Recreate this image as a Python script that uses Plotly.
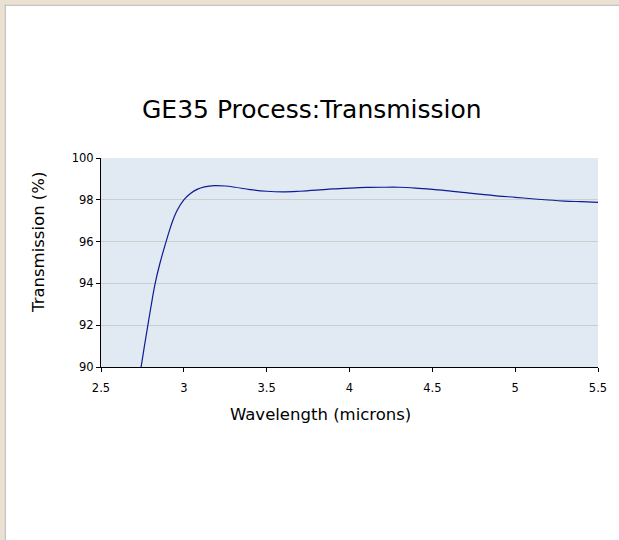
import plotly.graph_objects as go

# Data
wavelength = [2.742, 2.762, 2.783, 2.804, 2.827, 2.857, 2.893, 2.912, 2.933, 2.960, 3.0,
              3.04, 3.08, 3.125, 3.185, 3.25, 3.31, 3.4, 3.5, 3.6, 3.7, 3.8, 3.9, 4.0,
              4.1, 4.2, 4.3, 4.4, 4.5, 4.6, 4.7, 4.8, 4.9, 5.0, 5.1, 5.2, 5.3, 5.4, 5.5]
transmission = [90.0, 91.0, 92.0, 93.0, 94.0, 95.0, 96.0, 96.5, 97.0, 97.5, 98.0,
                98.3, 98.5, 98.62, 98.68, 98.66, 98.6, 98.49, 98.41, 98.38, 98.41,
                98.46, 98.52, 98.56, 98.59, 98.60, 98.60, 98.56, 98.50, 98.43, 98.34,
                98.26, 98.18, 98.12, 98.05, 97.99, 97.94, 97.91, 97.88]
x_ticks = [2.5, 3, 3.5, 4, 4.5, 5, 5.5]
x_tick_labels = ["2.5", "3", "3.5", "4", "4.5", "5", "5.5"]
y_ticks = [90, 92, 94, 96, 98, 100]

title_text = "GE35 Process:Transmission"
x_title = "Wavelength (microns)"
y_title = "Transmission (%)"

W, H = 619, 540
ML, MR, MT, MB = 101, 21, 158, 173
PW, PH = W - ML - MR, H - MT - MB


def px(x):
    return (x - ML) / PW


def py(y):
    return (H - MB - y) / PH


fig = go.Figure()
fig.add_trace(go.Scatter(
    x=wavelength, y=transmission, mode="lines",
    line=dict(color="#0c1c92", width=1.2, shape="spline", smoothing=1.0),
    hoverinfo="skip", showlegend=False, cliponaxis=True,
))

text_font = "DejaVu Sans, Verdana, sans-serif"
tick_font = dict(family=text_font, size=11.5, color="#000000")
fig.update_xaxes(
    range=[2.5, 5.5], tickvals=x_ticks, ticktext=x_tick_labels,
    showline=True, linecolor="#000000", linewidth=1, mirror=False,
    ticks="outside", ticklen=4, tickcolor="#000000", showgrid=False, zeroline=False,
    tickfont=tick_font, fixedrange=True, ticklabelstandoff=6,
)
fig.update_yaxes(
    range=[90, 100], tickvals=y_ticks,
    showline=True, linecolor="#000000", linewidth=1,
    ticks="outside", ticklen=4, tickcolor="#000000",
    showgrid=True, gridcolor="#cdcdcd", gridwidth=1, zeroline=False,
    tickfont=tick_font, fixedrange=True,
)

annotations = [
    dict(text=title_text, x=px(311.5), y=py(110), xref="paper", yref="paper",
         showarrow=False, xanchor="center", yanchor="middle",
         font=dict(family=text_font, size=25, color="#000000")),
    dict(text=x_title, x=px(320.5), y=py(414), xref="paper", yref="paper",
         showarrow=False, xanchor="center", yanchor="middle",
         font=dict(family=text_font, size=16.5, color="#000000")),
    dict(text=y_title, x=px(38), y=py(243), xref="paper", yref="paper",
         showarrow=False, xanchor="center", yanchor="middle", textangle=-90,
         font=dict(family=text_font, size=16.5, color="#000000")),
]

shapes = [
    dict(type="rect", xref="paper", yref="paper", x0=px(0), x1=px(W), y0=py(0), y1=py(4.5),
         fillcolor="#ebe1d1", line=dict(width=0), layer="above"),
    dict(type="rect", xref="paper", yref="paper", x0=px(0), x1=px(4.5), y0=py(0), y1=py(H),
         fillcolor="#ebe1d1", line=dict(width=0), layer="above"),
    dict(type="rect", xref="paper", yref="paper", x0=px(4.5), x1=px(W), y0=py(4.5), y1=py(6),
         fillcolor="#c4c4c4", line=dict(width=0), layer="above"),
    dict(type="rect", xref="paper", yref="paper", x0=px(4.5), x1=px(6), y0=py(4.5), y1=py(H),
         fillcolor="#c4c4c4", line=dict(width=0), layer="above"),
]

fig.update_layout(
    width=W, height=H, autosize=False,
    margin=dict(l=ML, r=MR, t=MT, b=MB, pad=0),
    paper_bgcolor="#ffffff", plot_bgcolor="#e1e9f3",
    annotations=annotations, shapes=shapes, showlegend=False,
)

fig.write_html(
    "out.html",
    config={"displayModeBar": False},
    post_script="document.body.style.margin='0';document.body.style.padding='0';",
)
